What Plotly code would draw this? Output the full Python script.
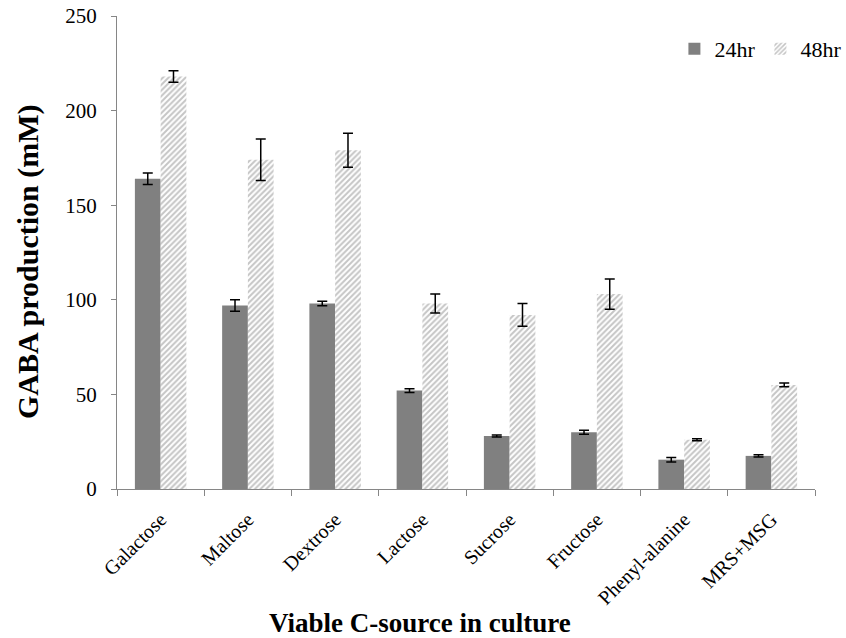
import plotly.graph_objects as go

categories = ["Galactose", "Maltose", "Dextrose", "Lactose", "Sucrose",
              "Fructose", "Phenyl-alanine", "MRS+MSG"]
gaba_24hr = [164, 97, 98, 52, 28, 30, 15.5, 17.5]
err_24hr = [3, 3, 1.2, 1, 0.5, 1, 1.2, 0.6]
gaba_48hr = [218, 174, 179, 98, 92, 103, 26, 55]
err_48hr = [3, 11, 9, 5, 6, 8, 0.5, 1]
y_ticks = [0, 50, 100, 150, 200, 250]

FONT = "Liberation Serif"

fig = go.Figure()
fig.add_trace(go.Bar(
    name="24hr", x=categories, y=gaba_24hr,
    marker=dict(color="#808080", line=dict(width=0)),
    error_y=dict(type="data", array=err_24hr, color="black", thickness=1.5, width=5),
))
fig.add_trace(go.Bar(
    name="48hr", x=categories, y=gaba_48hr,
    marker=dict(color="white", line=dict(width=0),
                pattern=dict(shape="/", fgcolor="#8c8c8c", bgcolor="white",
                             size=4, solidity=0.5)),
    error_y=dict(type="data", array=err_48hr, color="black", thickness=1.5, width=5),
))

fig.update_layout(
    width=846, height=638,
    margin=dict(l=117, r=31, t=16, b=149, autoexpand=False),
    paper_bgcolor="white", plot_bgcolor="white",
    barmode="group", bargap=0.41, bargroupgap=0,
    font=dict(family=FONT, color="black", size=20),
    showlegend=True,
    legend=dict(orientation="h", x=1.045, y=0.975, xanchor="right", yanchor="top",
                font=dict(family=FONT, size=22), bgcolor="rgba(0,0,0,0)",
                itemwidth=30, tracegroupgap=0),
)
fig.update_yaxes(
    range=[0, 250], tickvals=y_ticks, showgrid=False, zeroline=False,
    showline=True, linecolor="#868686", linewidth=1, automargin=False,
    ticks="outside", ticklen=5, tickcolor="#868686", ticklabelstandoff=10,
    tickfont=dict(family=FONT, size=21),
)
fig.update_xaxes(
    showgrid=False, showline=True, linecolor="#868686", linewidth=1, automargin=False,
    ticks="outside", ticklen=6, tickcolor="#868686", tickson="boundaries",
    tickangle=-45, ticklabelstandoff=10, tickfont=dict(family=FONT, size=20),
)

# Axis titles placed as paper-anchored annotations
fig.add_annotation(
    text="<b>Viable C-source in culture</b>", xref="paper", yref="paper",
    x=0.434, y=-0.283, xanchor="center", yanchor="middle", showarrow=False,
    font=dict(family=FONT, size=27, color="black"),
)
fig.add_annotation(
    text="<b>GABA production (mM)</b>", xref="paper", yref="paper",
    x=-0.1275, y=0.48, xanchor="center", yanchor="middle", showarrow=False,
    textangle=-90, font=dict(family=FONT, size=30, color="black"),
)

fig.write_html("out.html")
